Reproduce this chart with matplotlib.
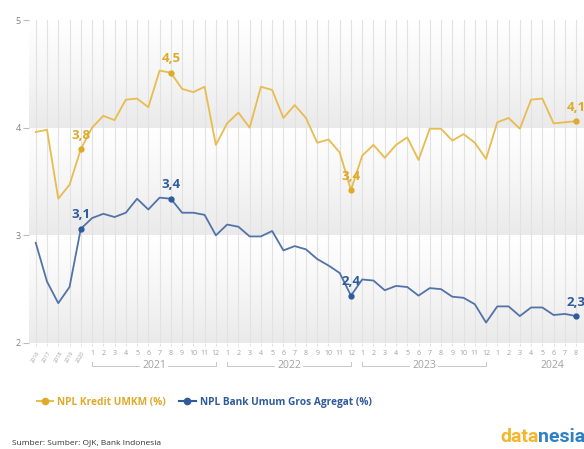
import matplotlib
matplotlib.use("Agg")
import matplotlib.pyplot as plt
import numpy as np
from matplotlib.colors import LinearSegmentedColormap
from matplotlib.lines import Line2D

# categories: 5 annual points then monthly 2021-2024
years = ["2016", "2017", "2018", "2019", "2020"]
month_years = ["2021", "2022", "2023", "2024"]
months_per_year = [12, 12, 12, 8]
month_labels = []
for n in months_per_year:
    month_labels += [str(m) for m in range(1, n + 1)]
tick_labels = years + month_labels

umkm = [3.96, 3.98, 3.34, 3.47, 3.80,
        4.00, 4.11, 4.07, 4.26, 4.27, 4.19, 4.53, 4.51, 4.36, 4.33, 4.38, 3.84,
        4.04, 4.14, 4.00, 4.38, 4.35, 4.09, 4.21, 4.09, 3.86, 3.89, 3.77, 3.42,
        3.74, 3.84, 3.72, 3.84, 3.91, 3.70, 3.99, 3.99, 3.88, 3.94, 3.86, 3.71,
        4.05, 4.09, 3.99, 4.26, 4.27, 4.04, 4.05, 4.06]
bank = [2.93, 2.57, 2.37, 2.52, 3.06,
        3.16, 3.20, 3.17, 3.21, 3.34, 3.24, 3.35, 3.34, 3.21, 3.21, 3.19, 3.00,
        3.10, 3.08, 2.99, 2.99, 3.04, 2.86, 2.90, 2.87, 2.78, 2.72, 2.65, 2.44,
        2.59, 2.58, 2.49, 2.53, 2.52, 2.44, 2.51, 2.50, 2.43, 2.42, 2.36, 2.19,
        2.34, 2.34, 2.25, 2.33, 2.33, 2.26, 2.27, 2.25]

label_idx = [4, 12, 28, 48]
umkm_labels = ["3,8", "4,5", "3,4", "4,1"]
bank_labels = ["3,1", "3,4", "2,4", "2,3"]

YELLOW = "#E8BC4E"
YELLOW_TXT = "#DFAA2A"
BLUE = "#5273A8"
BLUE_TXT = "#2F5B9C"

plt.rcParams["font.family"] = ["Open Sans", "DejaVu Sans"]

fig = plt.figure(figsize=(5.84, 4.49), dpi=100)
ax = fig.add_axes([29 / 584, 106 / 449, 555 / 584, 323 / 449])

x = np.arange(len(tick_labels))
xmin, xmax = -0.6, 48.7
ax.set_xlim(xmin, xmax)
ax.set_ylim(2, 5)

# gradient bands, white at top to light gray at bottom
cmap = LinearSegmentedColormap.from_list("band", ["#FFFFFF", "#F6F6F6", "#EAEAEA"])
grad = np.linspace(0, 1, 100).reshape(-1, 1)
for lo in [2, 3, 4]:
    ax.imshow(grad, extent=(xmin, xmax, lo, lo + 1), aspect="auto", cmap=cmap,
              origin="upper", zorder=0)

for xi in x:
    ax.axvline(xi, color="#E2E2E2", lw=0.8, zorder=1)

ax.plot(x, umkm, color=YELLOW, lw=1.3, zorder=3)
ax.plot(x, bank, color=BLUE, lw=1.3, zorder=3)

for i, lu, lb in zip(label_idx, umkm_labels, bank_labels):
    ax.plot(x[i], umkm[i], "o", color=YELLOW_TXT, ms=3.5, zorder=4)
    ax.plot(x[i], bank[i], "o", color=BLUE_TXT, ms=3.5, zorder=4)
    ax.annotate(lu, (x[i], umkm[i]), xytext=(0, 10), textcoords="offset points",
                ha="center", va="center", color=YELLOW_TXT, fontsize=9.5,
                fontweight="bold", zorder=5, annotation_clip=False)
    ax.annotate(lb, (x[i], bank[i]), xytext=(0, 10), textcoords="offset points",
                ha="center", va="center", color=BLUE_TXT, fontsize=9.5,
                fontweight="bold", zorder=5, annotation_clip=False)

for s in ax.spines.values():
    s.set_visible(False)

ax.set_yticks([2, 3, 4, 5])
ax.set_yticklabels(["2", "3", "4", "5"])
ax.tick_params(axis="y", length=4, width=0.8, color="#BBBBBB", labelcolor="#808080",
               labelsize=6.5, pad=2)

ax.set_xticks(x)
ax.set_xticklabels(tick_labels)
ax.tick_params(axis="x", length=2, width=0.6, color="#DDDDDD", labelcolor="#A0A0A0",
               labelsize=5, pad=3)
for lab in ax.get_xticklabels()[:5]:
    lab.set_rotation(60)
    lab.set_fontsize(4)
    lab.set_ha("center")

# year brackets under the month labels
trans = ax.get_xaxis_transform()
start = 5
for yr, n in zip(month_years, months_per_year):
    x0, x1 = start, start + 11
    ax.plot([x0, x0, x1, x1], [-0.059, -0.071, -0.071, -0.059], color="#C8C8C8",
            lw=0.7, transform=trans, clip_on=(yr == "2024"))
    xc = (x0 + x1) / 2 if yr != "2024" else 45.9
    ax.text(xc, -0.071, yr, transform=trans, ha="center", va="center",
            fontsize=7.5, color="#A0A0A0",
            bbox=dict(facecolor="white", edgecolor="none", pad=1.5))
    start += n

handles = [
    Line2D([0], [0], color=YELLOW, lw=1.5, marker="o", ms=4.5, mfc=YELLOW_TXT, mec=YELLOW_TXT),
    Line2D([0], [0], color=BLUE_TXT, lw=1.5, marker="o", ms=4.5, mfc=BLUE_TXT, mec=BLUE_TXT),
]
leg = fig.legend(handles, ["NPL Kredit UMKM (%)", "NPL Bank Umum Gros Agregat (%)"],
                 loc="center left", bbox_to_anchor=(28 / 584, 1 - 402 / 449), ncol=2,
                 frameon=False, handlelength=1.6, handletextpad=0.4,
                 columnspacing=1.3, prop={"weight": "bold", "size": 7.3})
for t, c in zip(leg.get_texts(), [YELLOW_TXT, BLUE_TXT]):
    t.set_color(c)

fig.text(12 / 584, 1 - 443 / 449, "Sumber: Sumber: OJK, Bank Indonesia", fontsize=6,
         color="#333333", va="center", ha="left")

# logo: "data" + "nesia" placed side by side
t1 = fig.text(500 / 584, 1 - 437 / 449, "data", fontsize=14, fontweight="bold",
              color="#F4B62C", va="center", ha="left", family="Roboto")
fig.canvas.draw()
bb = t1.get_window_extent()
fig.text(bb.x1 / 584, 1 - 437 / 449, "nesia", fontsize=14, fontweight="bold",
         color="#2E80C3", va="center", ha="left", family="Roboto")

fig.savefig("out.png", dpi=100)
